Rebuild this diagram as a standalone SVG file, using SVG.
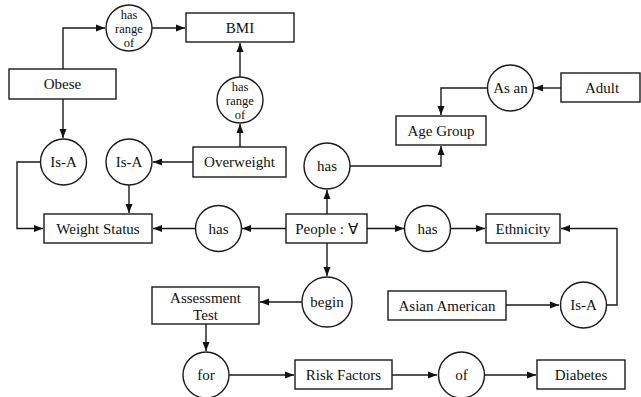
<svg xmlns="http://www.w3.org/2000/svg" width="641" height="397" viewBox="0 0 641 397">
<style>
.box{fill:#fff;stroke:#1a1a1a;stroke-width:1.4}
.cir{fill:#fff;stroke:#1a1a1a;stroke-width:1.4}
text{font-family:'Liberation Serif','Times New Roman',serif;fill:#111;text-anchor:middle}
.t{font-size:15px}
.s{font-size:12.5px}
.c{fill:none;stroke:#1a1a1a;stroke-width:1.4}
</style>
<defs>
<marker id="ah" markerUnits="userSpaceOnUse" markerWidth="10" markerHeight="10" refX="9" refY="5" orient="auto">
<path d="M0,1.5 L9,5 L0,8.5 Z" fill="#111"/>
</marker>
</defs>
<rect width="641" height="397" fill="#fff"/>
<g id="connectors">
<path class="c" d="M63,69 V28 H105" marker-end="url(#ah)"/>
<path class="c" d="M152,28 H185" marker-end="url(#ah)"/>
<path class="c" d="M63,99 V138" marker-end="url(#ah)"/>
<path class="c" d="M40.5,162 H17 V228.5 H43" marker-end="url(#ah)"/>
<path class="c" d="M193,162 H153" marker-end="url(#ah)"/>
<path class="c" d="M129,185 V213" marker-end="url(#ah)"/>
<path class="c" d="M240,147 V124" marker-end="url(#ah)"/>
<path class="c" d="M240,77 V43" marker-end="url(#ah)"/>
<path class="c" d="M286,228.5 H242" marker-end="url(#ah)"/>
<path class="c" d="M195.5,228.5 H153" marker-end="url(#ah)"/>
<path class="c" d="M327,214 V190" marker-end="url(#ah)"/>
<path class="c" d="M350,166 H441 V146" marker-end="url(#ah)"/>
<path class="c" d="M561,88 H534" marker-end="url(#ah)"/>
<path class="c" d="M487.5,88 H441 V115" marker-end="url(#ah)"/>
<path class="c" d="M367,228.5 H404" marker-end="url(#ah)"/>
<path class="c" d="M450.5,228.5 H485" marker-end="url(#ah)"/>
<path class="c" d="M506,305 H559" marker-end="url(#ah)"/>
<path class="c" d="M606.5,305 H617 V228.5 H561" marker-end="url(#ah)"/>
<path class="c" d="M327,243 V276" marker-end="url(#ah)"/>
<path class="c" d="M302,302 H260" marker-end="url(#ah)"/>
<path class="c" d="M206,324 V351" marker-end="url(#ah)"/>
<path class="c" d="M229,375 H294" marker-end="url(#ah)"/>
<path class="c" d="M392,375 H437" marker-end="url(#ah)"/>
<path class="c" d="M484.5,375 H536" marker-end="url(#ah)"/>
</g>
<g id="bmi"><rect class="box" x="186" y="13" width="108" height="29"/><text class="t" x="240" y="33">BMI</text></g>
<g id="obese"><rect class="box" x="9" y="69" width="107" height="30"/><text class="t" x="62.5" y="89">Obese</text></g>
<g id="overweight"><rect class="box" x="193" y="147" width="93" height="30"/><text class="t" x="239.5" y="167">Overweight</text></g>
<g id="weight-status"><rect class="box" x="44" y="214" width="108" height="29"/><text class="t" x="98" y="233.5">Weight Status</text></g>
<g id="people"><rect class="box" x="286" y="214" width="81" height="29"/><text class="t" x="326.5" y="233.5">People : ∀</text></g>
<g id="age-group"><rect class="box" x="396" y="116" width="90" height="29"/><text class="t" x="441" y="135.5">Age Group</text></g>
<g id="adult"><rect class="box" x="561" y="73" width="79" height="29"/><text class="t" x="602" y="92.5">Adult</text></g>
<g id="ethnicity"><rect class="box" x="486" y="214" width="74" height="29"/><text class="t" x="523" y="233.5">Ethnicity</text></g>
<g id="asian-american"><rect class="box" x="388" y="291" width="118" height="29"/><text class="t" x="447" y="310.5">Asian American</text></g>
<g id="assessment-test"><rect class="box" x="152" y="287" width="107" height="37"/><text class="t" x="205.5" y="303">Assessment</text><text class="t" x="205.5" y="320">Test</text></g>
<g id="risk-factors"><rect class="box" x="295" y="360" width="97" height="29"/><text class="t" x="343.5" y="379.5">Risk Factors</text></g>
<g id="diabetes"><rect class="box" x="537" y="360" width="88" height="29"/><text class="t" x="581" y="379.5">Diabetes</text></g>
<g id="has-range-of-1"><circle class="cir" cx="129" cy="28" r="23"/><text class="s" x="129" y="19">has</text><text class="s" x="129" y="33">range</text><text class="s" x="129" y="47">of</text></g>
<g id="has-range-of-2"><circle class="cir" cx="240" cy="100" r="23"/><text class="s" x="240" y="91">has</text><text class="s" x="240" y="105">range</text><text class="s" x="240" y="119">of</text></g>
<g id="is-a-1"><circle class="cir" cx="63.5" cy="162" r="23"/><text class="t" x="63.5" y="167">Is-A</text></g>
<g id="is-a-2"><circle class="cir" cx="129" cy="162" r="23"/><text class="t" x="129" y="167">Is-A</text></g>
<g id="has-left"><circle class="cir" cx="218.5" cy="228.5" r="23"/><text class="t" x="218.5" y="233.5">has</text></g>
<g id="has-top"><circle class="cir" cx="327" cy="166" r="23"/><text class="t" x="327" y="171">has</text></g>
<g id="as-an"><circle class="cir" cx="510.5" cy="88" r="23"/><text class="t" x="510.5" y="93">As an</text></g>
<g id="has-right"><circle class="cir" cx="427.5" cy="228.5" r="23"/><text class="t" x="427.5" y="233.5">has</text></g>
<g id="is-a-3"><circle class="cir" cx="583.5" cy="305" r="23"/><text class="t" x="583.5" y="310">Is-A</text></g>
<g id="begin"><circle class="cir" cx="327" cy="302" r="25"/><text class="t" x="327" y="307">begin</text></g>
<g id="for"><circle class="cir" cx="206" cy="375" r="23"/><text class="t" x="206" y="380">for</text></g>
<g id="of"><circle class="cir" cx="461.5" cy="375" r="23"/><text class="t" x="461.5" y="380">of</text></g>
</svg>
